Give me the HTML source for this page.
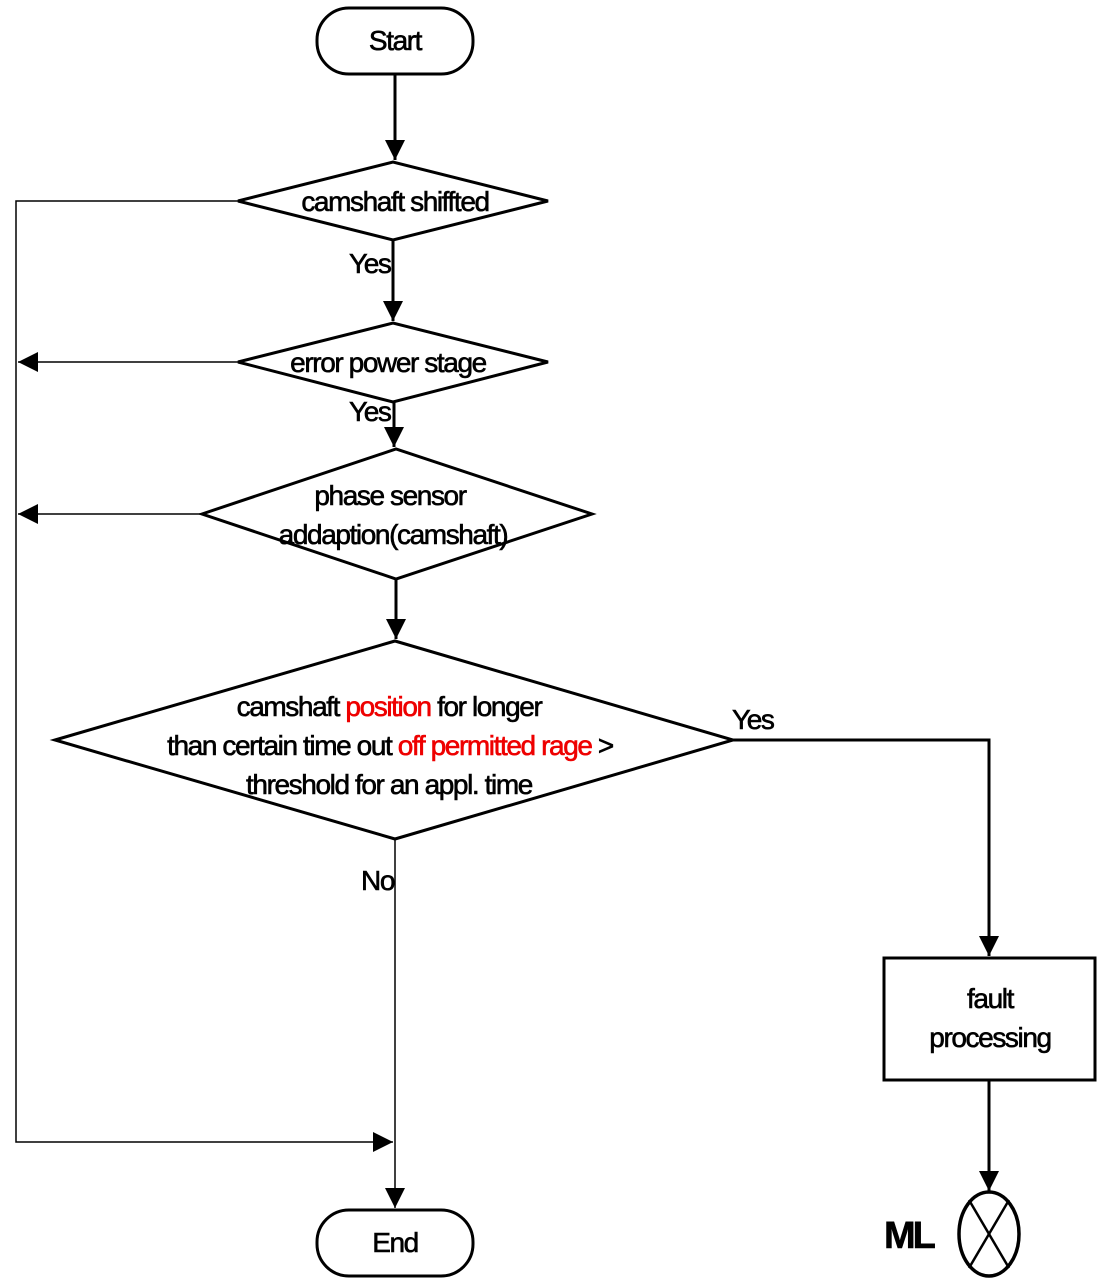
<!DOCTYPE html>
<html><head><meta charset="utf-8"><style>
html,body{margin:0;padding:0;background:#fff;}
svg{display:block;}
text{font-family:"Liberation Sans",Arial,sans-serif;font-size:28px;letter-spacing:-1.4px;fill:#000;stroke:#000;stroke-width:0.6px;}
.r{fill:#e00;stroke:#e00;}
</style></head><body>
<svg width="1104" height="1288" viewBox="0 0 1104 1288" xmlns="http://www.w3.org/2000/svg">
<defs>
<marker id="b" markerWidth="20" markerHeight="28" refX="20" refY="14" orient="auto" markerUnits="userSpaceOnUse"><path d="M0,4 L20,14 L0,24 z" fill="#000"/></marker>
</defs>
<g fill="#fff" stroke="#000" stroke-width="3">
<rect x="317" y="8" width="156" height="66" rx="32"/>
<rect x="317" y="1210" width="156" height="66" rx="32"/>
<polygon points="238,201 393,162 548,201 393,240"/>
<polygon points="238,362 393,323 548,362 393,402"/>
<polygon points="202,514 396,449 592,514 396,579"/>
<polygon points="55,740 395,641 733,740 395,839"/>
<rect x="884" y="958" width="211" height="122"/>
<ellipse cx="989" cy="1234" rx="30" ry="42" stroke-width="3.5"/>
</g>
<g stroke="#000" stroke-width="2.5" fill="none">
<line x1="969" y1="1200" x2="1009" y2="1268"/>
<line x1="1009" y1="1200" x2="969" y2="1268"/>
</g>
<g stroke="#000" stroke-width="3" fill="none">
<line x1="395" y1="74" x2="395" y2="160" marker-end="url(#b)"/>
<line x1="393" y1="240" x2="393" y2="321" marker-end="url(#b)"/>
<line x1="394" y1="402" x2="394" y2="447" marker-end="url(#b)"/>
<line x1="396" y1="579" x2="396" y2="639" marker-end="url(#b)"/>
<polyline points="733,740 989,740 989,956" marker-end="url(#b)"/>
<line x1="989" y1="1080" x2="989" y2="1191" marker-end="url(#b)"/>
</g>
<g stroke="#000" stroke-width="1.5" fill="none">
<polyline points="238,201 16,201 16,1142 393,1142" marker-end="url(#b)"/>
<line x1="238" y1="362" x2="18" y2="362" marker-end="url(#b)"/>
<line x1="202" y1="514" x2="18" y2="514" marker-end="url(#b)"/>
<line x1="395" y1="839" x2="395" y2="1208" marker-end="url(#b)"/>
</g>
<text x="395" y="50" text-anchor="middle">Start</text>
<text x="395" y="1252" text-anchor="middle">End</text>
<text x="395" y="211" text-anchor="middle">camshaft shiffted</text>
<text x="388" y="372" text-anchor="middle">error power stage</text>
<text x="390" y="505" text-anchor="middle">phase sensor</text>
<text x="393" y="544" text-anchor="middle">addaption(camshaft)</text>
<text x="389" y="716" text-anchor="middle">camshaft <tspan class="r">position</tspan>  for longer</text>
<text x="390" y="755" text-anchor="middle">than certain time out <tspan class="r">off permitted rage</tspan> &gt;</text>
<text x="389" y="794" text-anchor="middle">threshold for an appl. time</text>
<text x="349" y="273">Yes</text>
<text x="349" y="421">Yes</text>
<text x="732" y="729">Yes</text>
<text x="361" y="890">No</text>
<text x="990" y="1008" text-anchor="middle">fault</text>
<text x="990" y="1047" text-anchor="middle">processing</text>
<text x="884" y="1248" style="font-size:38px;font-weight:bold;letter-spacing:-3px">ML</text>
</svg>
</body></html>
